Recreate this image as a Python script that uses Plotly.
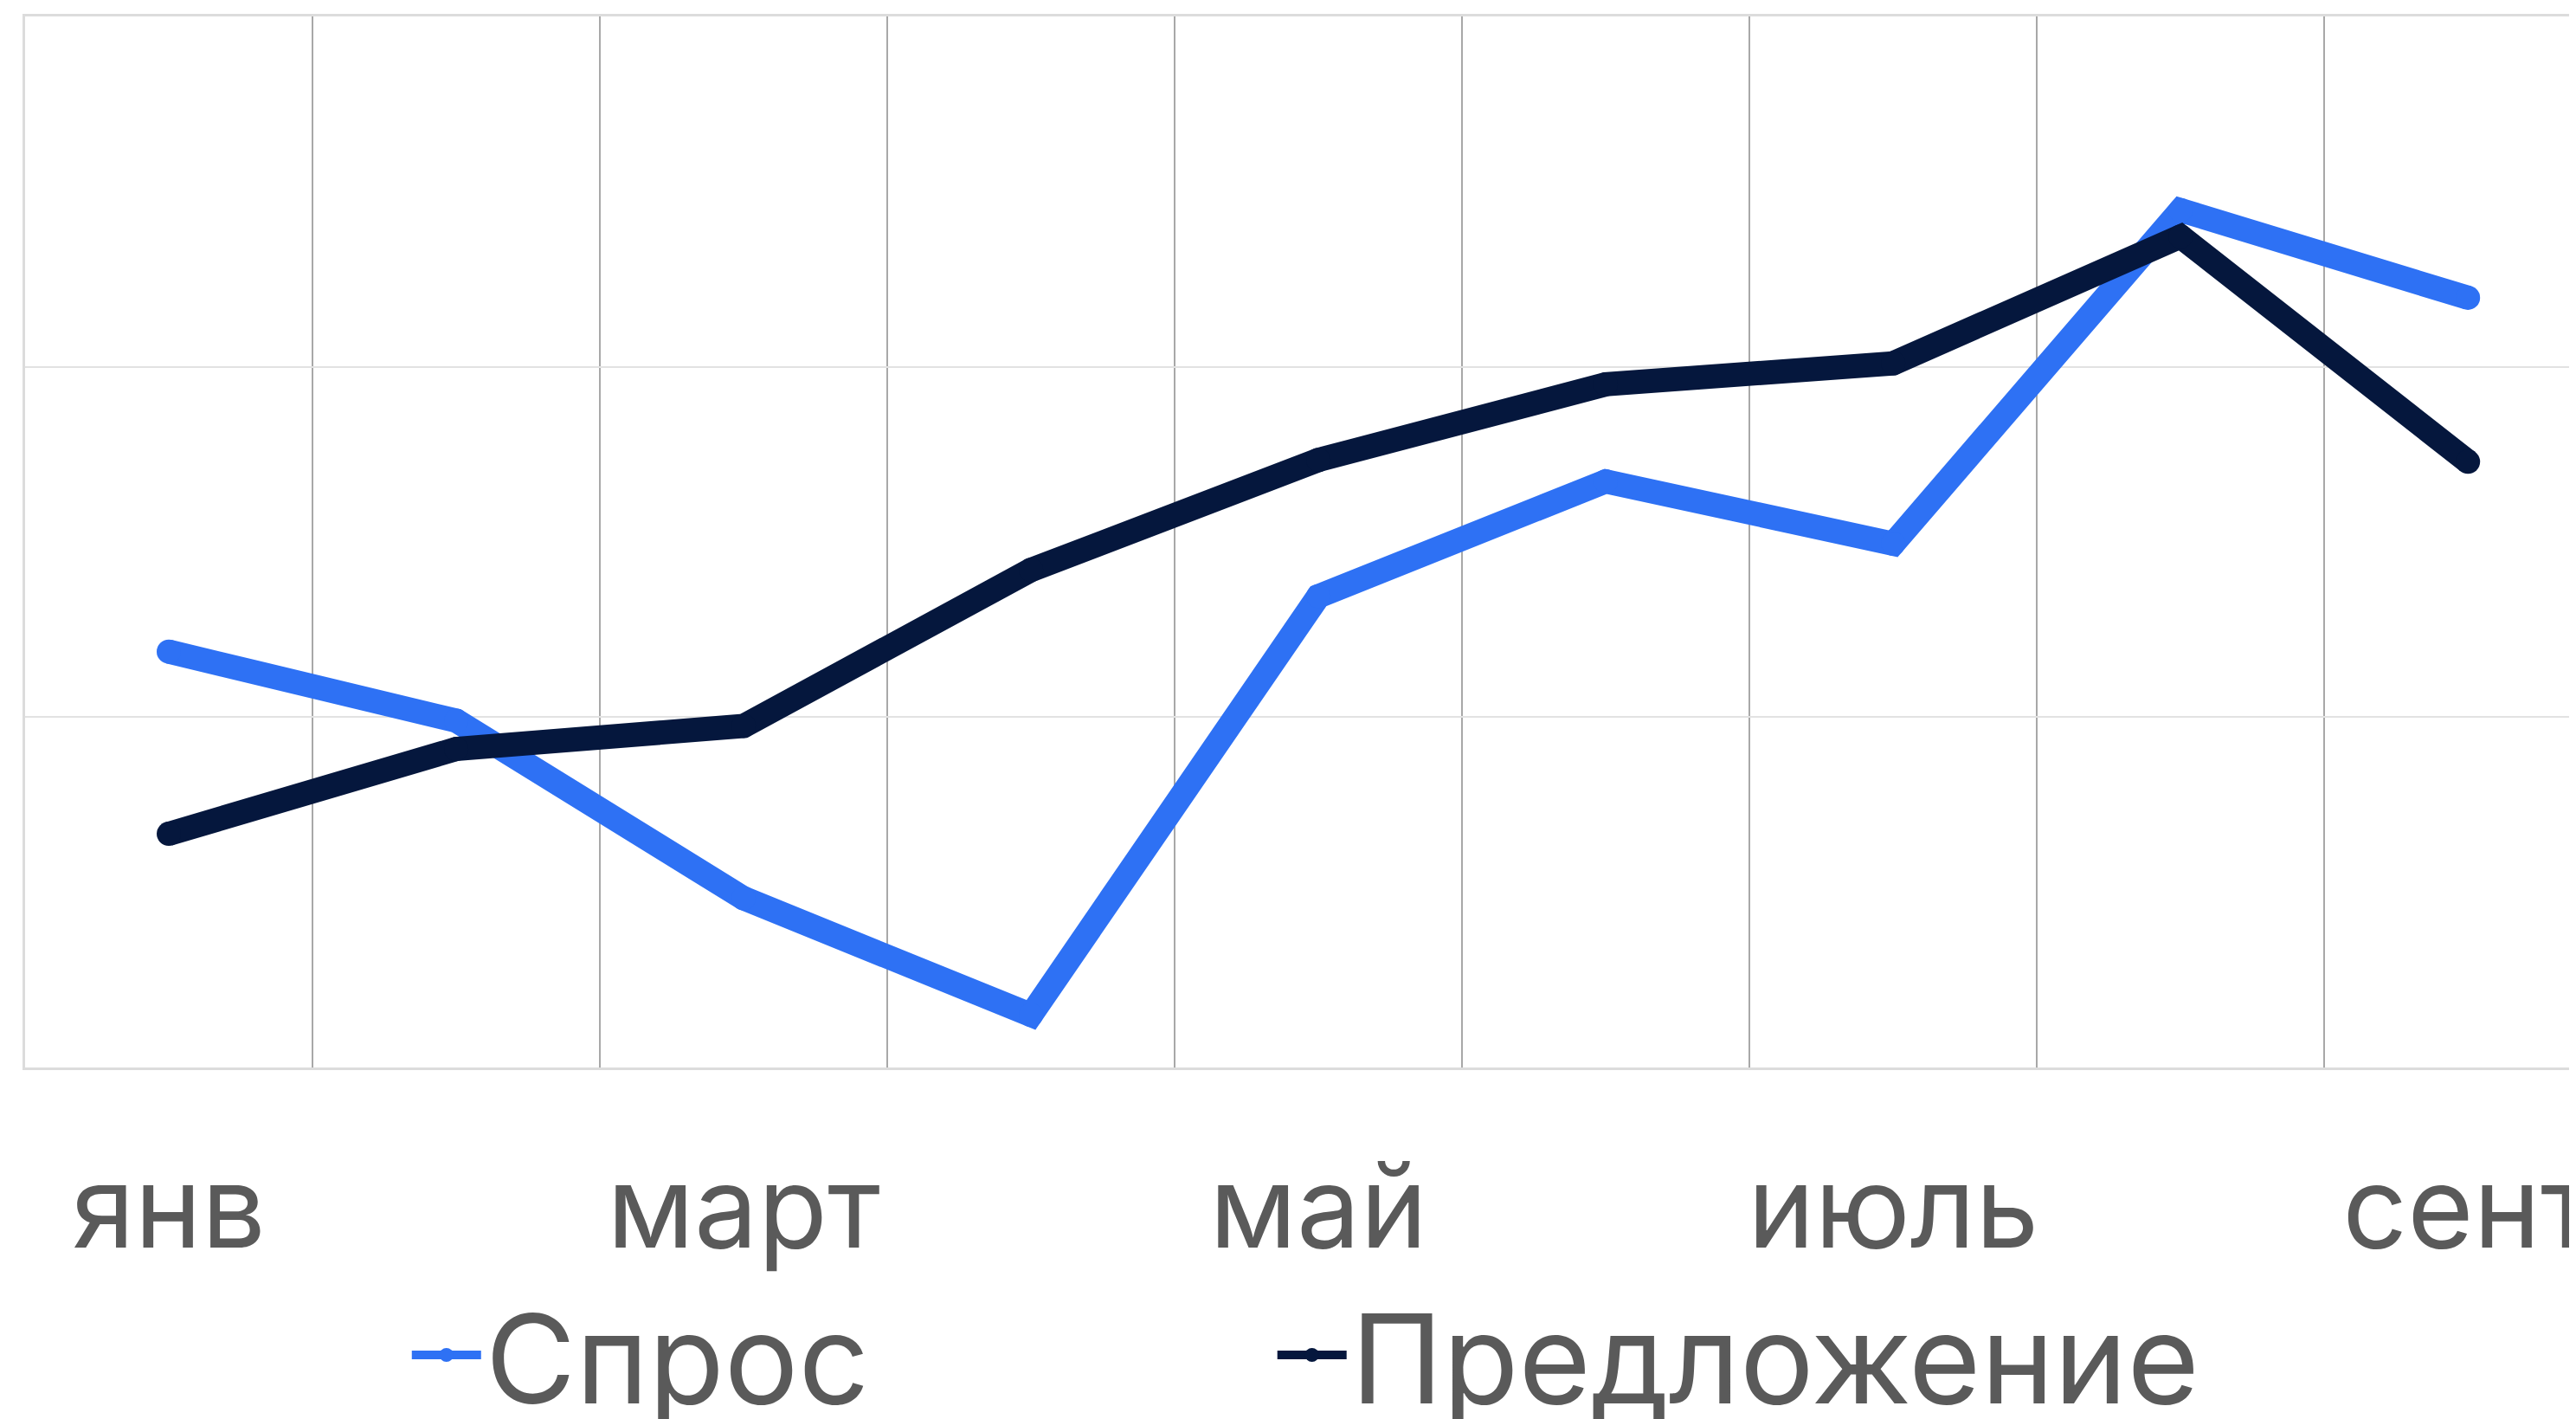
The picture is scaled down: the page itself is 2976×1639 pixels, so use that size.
import plotly.graph_objects as go

months = ["янв", "фев", "март", "апр", "май", "июнь", "июль", "авг", "сент"]
demand = [11.87, 9.9, 4.83, 1.5, 13.45, 16.73, 14.95, 24.47, 21.97]
supply = [6.67, 9.09, 9.75, 14.2, 17.34, 19.5, 20.1, 23.72, 17.29]
tick_labels = ["янв", "", "март", "", "май", "", "июль", "", "сент"]

BLUE = "#2E71F4"
NAVY = "#05173D"
TEXT = "#5A5A5A"
FONT = "Inter, Roboto, sans-serif"
LW = 28

fig = go.Figure()
fig.add_trace(go.Scatter(
    x=months, y=demand, name="Спрос", mode="lines+markers",
    line=dict(color=BLUE, width=LW),
    marker=dict(color=BLUE, size=LW, line=dict(width=0)),
    legend="legend",
))
fig.add_trace(go.Scatter(
    x=months, y=supply, name="Предложение", mode="lines+markers",
    line=dict(color=NAVY, width=LW),
    marker=dict(color=NAVY, size=LW, line=dict(width=0)),
    legend="legend2",
))

leg_common = dict(
    orientation="h", yref="container", yanchor="middle", y=0.050,
    xref="container", xanchor="left",
    font=dict(size=143, color=TEXT, family=FONT),
    itemwidth=80, bgcolor="rgba(0,0,0,0)",
)

fig.update_layout(
    width=2976, height=1639,
    margin=dict(l=21, r=0, t=11, b=414),
    paper_bgcolor="white", plot_bgcolor="white",
    font=dict(family=FONT, color=TEXT),
    showlegend=True,
    legend=dict(leg_common, x=0.1555),
    legend2=dict(leg_common, x=0.4915),
    xaxis=dict(
        type="category", categoryarray=months, categoryorder="array",
        range=[-0.5, 8.4],
        tickmode="array", tickvals=months, ticktext=tick_labels,
        tickson="boundaries", tickangle=0, automargin=False,
        showgrid=True, gridcolor="#A8A8A8", gridwidth=2,
        ticks="", tickfont=dict(size=131, color=TEXT, family=FONT),
        ticklabelstandoff=48,
        showline=True, mirror=True, linecolor="#DCDCDC", linewidth=3,
        zeroline=False,
    ),
    yaxis=dict(
        range=[0, 30], dtick=10, showticklabels=False, automargin=False,
        showgrid=True, gridcolor="#E2E2E2", gridwidth=2,
        showline=True, mirror=False, linecolor="#DCDCDC", linewidth=3,
        zeroline=False, ticks="",
    ),
)

fig.write_html("out.html")
